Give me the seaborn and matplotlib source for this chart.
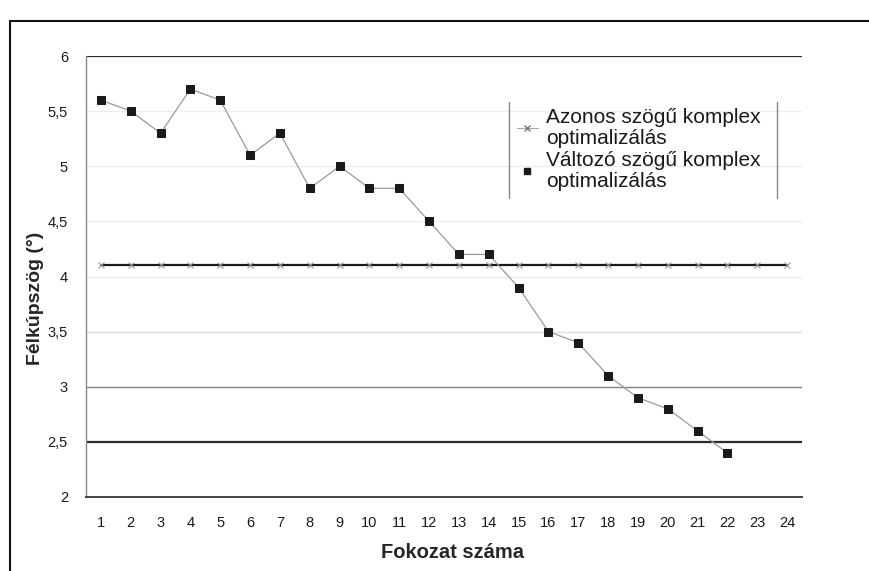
import numpy as np
import pandas as pd
import matplotlib
matplotlib.use("Agg")
import matplotlib.pyplot as plt
from matplotlib.lines import Line2D
from matplotlib.patches import Rectangle
from matplotlib.ticker import FixedLocator, FuncFormatter
import seaborn as sns

# 数据
fokozat = list(range(1, 25))
azonos = [4.1] * 24
valtozo_fokozat = list(range(1, 23))
valtozo = [5.6, 5.5, 5.3, 5.7, 5.6, 5.1, 5.3, 4.8, 5.0, 4.8, 4.8, 4.5,
           4.2, 4.2, 3.9, 3.5, 3.4, 3.1, 2.9, 2.8, 2.6, 2.4]
y_ticks = [2, 2.5, 3, 3.5, 4, 4.5, 5, 5.5, 6]
label_azonos = "Azonos szögű komplex\noptimalizálás"
label_valtozo = "Változó szögű komplex\noptimalizálás"

df_a = pd.DataFrame({"Fokozat": fokozat, "Szog": azonos})
df_v = pd.DataFrame({"Fokozat": valtozo_fokozat, "Szog": valtozo})

sns.set_style("white")
plt.rcParams["font.family"] = ["Liberation Sans", "DejaVu Sans"]

fig = plt.figure(figsize=(8.7, 5.71), dpi=100)
ax = fig.add_axes([86 / 870, 1 - 497 / 571, (802 - 86) / 870, (497 - 56) / 571])

# 网格线（扫描件里深浅不一）
grid_colors = {2.5: "#2a2a2a", 3: "#808080", 3.5: "#dddddd", 4: "#eeeeee",
               4.5: "#eeeeee", 5: "#eeeeee", 5.5: "#eeeeee", 6: "#2a2a2a"}
for v, c in grid_colors.items():
    ax.axhline(v, color=c, lw=1.6 if c == "#2a2a2a" else 1.0, zorder=0)

sns.lineplot(data=df_a, x="Fokozat", y="Szog", ax=ax, color="#1a1a1a", lw=1.6,
             marker="x", markersize=4, markeredgecolor="#999999", markeredgewidth=0.8,
             legend=False, zorder=2)
sns.lineplot(data=df_v, x="Fokozat", y="Szog", ax=ax, color="#9a9a9a", lw=0.9,
             marker="s", markersize=5.5, markerfacecolor="#1a1a1a",
             markeredgecolor="#1a1a1a", legend=False, zorder=3)

ax.set_xlim(0.5, 24.5)
ax.set_ylim(2, 6)
ax.set_xticks(fokozat)
ax.xaxis.set_minor_locator(FixedLocator(np.arange(0.5, 25, 1)))
ax.tick_params(axis="x", which="major", length=0, pad=14, labelsize=10.5, colors="#1a1a1a")
ax.tick_params(axis="x", which="minor", length=4, width=1, colors="#555555", direction="out")
ax.set_yticks(y_ticks)
ax.yaxis.set_major_formatter(FuncFormatter(lambda v, p: f"{v:g}".replace(".", ",")))
ax.tick_params(axis="y", length=5, width=1, colors="#777777", labelcolor="#1a1a1a",
               labelsize=10.5, pad=8, direction="out")

for s in ["top", "right"]:
    ax.spines[s].set_visible(False)
ax.spines["left"].set_color("#888888")
ax.spines["left"].set_linewidth(1.0)
ax.spines["bottom"].set_color("#444444")
ax.spines["bottom"].set_linewidth(1.4)

ax.set_xlabel("Fokozat száma", fontsize=14.5, fontweight="bold")
ax.xaxis.set_label_coords(0.512, -0.105)
ax.set_ylabel("Félkúpszög (°)", fontsize=14, fontweight="bold")
ax.yaxis.set_label_coords(-0.058, 0.45)

handles = [
    Line2D([], [], color="#aaaaaa", lw=0.8, marker="x", markersize=4,
           markeredgecolor="#777777"),
    Line2D([], [], color="none", marker="s", markersize=5,
           markerfacecolor="#1a1a1a", markeredgecolor="#1a1a1a"),
]
leg = ax.legend(handles, [label_azonos, label_valtozo], loc="upper left",
                bbox_to_anchor=((517 - 86) / 716, (497 - 108) / 441),
                frameon=False, fontsize=15, handlelength=1.0, handletextpad=0.4,
                labelspacing=0.15, borderpad=0.0, borderaxespad=0.0)
for t in leg.get_texts():
    t.set_linespacing(1.12)
    t.set_color("#1a1a1a")

# 图例框只剩左右两条竖线
for xp in [509, 777]:
    fig.add_artist(Line2D([xp / 870, xp / 870], [1 - 102 / 571, 1 - 198 / 571],
                          color="#888888", lw=1.0))

# 外框
fig.add_artist(Rectangle((10 / 870, -0.02), 1.0, 1 - 21 / 571 + 0.02,
                         transform=fig.transFigure, fill=False,
                         edgecolor="#111111", lw=1.5))

fig.savefig("out.png", dpi=100)
